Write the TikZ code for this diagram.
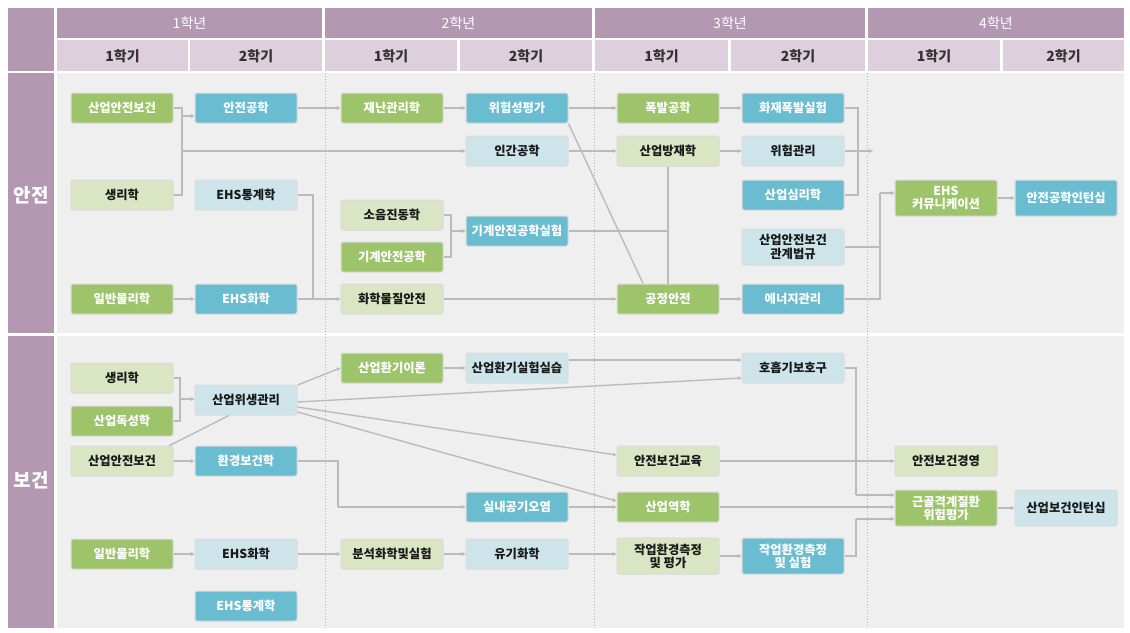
\documentclass[tikz,border=0pt]{standalone}
\usepackage{fontspec}
\setmainfont{Noto Sans CJK KR}
\usetikzlibrary{arrows.meta}

\definecolor{hdpurple}{HTML}{B497B1}
\definecolor{sempurple}{HTML}{DDD0DC}
\definecolor{bodygray}{HTML}{EFEFEF}
\definecolor{subjgreen}{HTML}{9DC46B}
\definecolor{subjlgreen}{HTML}{DAE5C3}
\definecolor{subjteal}{HTML}{6ABCD0}
\definecolor{subjlblue}{HTML}{CDE5EA}
\definecolor{linkgray}{HTML}{BBBBBB}

\begin{document}
\begin{tikzpicture}[x=1pt, y=-1pt,
    subj/.style={rounded corners=2pt, draw=black!14, line width=1pt,
      minimum width=102pt, minimum height=30pt, inner sep=1pt, align=center,
      font=\bfseries\fontsize{12.3}{13.2}\selectfont},
    gbox/.style={subj, fill=subjgreen, text=white},
    lgbox/.style={subj, fill=subjlgreen, text=black!90},
    tbox/.style={subj, fill=subjteal, text=white},
    lbbox/.style={subj, fill=subjlblue, text=black!90},
    twoline/.style={minimum height=36pt},
    yeartxt/.style={text=white, font=\fontsize{14}{16}\selectfont},
    semtxt/.style={text=black!80, font=\bfseries\fontsize{14}{16}\selectfont},
    parttxt/.style={text=white, font=\bfseries\fontsize{19}{21}\selectfont},
    link/.style={draw=linkgray, line width=1.4pt},
    arr/.style={link, -{Stealth[length=4pt, width=4pt]}},
  ]

  \useasboundingbox (0,0) rectangle (1130,632);

  % Column centres of the subject boxes
  \def\cola{122}
  \def\colb{246}
  \def\colc{392}
  \def\cold{517}
  \def\cole{668}
  \def\colf{793}
  \def\colg{946}
  \def\colh{1066}

  % Header
  \fill[hdpurple] (8,8) rectangle (54,71);
  \fill[hdpurple] (57,8) rectangle (322,38);
  \fill[hdpurple] (325,8) rectangle (592,38);
  \fill[hdpurple] (595,8) rectangle (865,38);
  \fill[hdpurple] (868,8) rectangle (1124,38);
  \node[yeartxt] (ya) at (189.5,23) {1학년};
  \node[yeartxt] (yb) at (458.5,23) {2학년};
  \node[yeartxt] (yc) at (730,23) {3학년};
  \node[yeartxt] (yd) at (996,23) {4학년};

  \fill[sempurple] (57,40) rectangle (188,71);
  \fill[sempurple] (190,40) rectangle (322,71);
  \fill[sempurple] (325,40) rectangle (457,71);
  \fill[sempurple] (460,40) rectangle (592,71);
  \fill[sempurple] (595,40) rectangle (728,71);
  \fill[sempurple] (731,40) rectangle (865,71);
  \fill[sempurple] (868,40) rectangle (1000,71);
  \fill[sempurple] (1003,40) rectangle (1124,71);
  \node[semtxt] (sema) at (122.5,56) {1학기};
  \node[semtxt] (semb) at (256,56) {2학기};
  \node[semtxt] (semc) at (391,56) {1학기};
  \node[semtxt] (semd) at (526,56) {2학기};
  \node[semtxt] (seme) at (661.5,56) {1학기};
  \node[semtxt] (semf) at (798,56) {2학기};
  \node[semtxt] (semg) at (934,56) {1학기};
  \node[semtxt] (semh) at (1063.5,56) {2학기};

  % Body
  \fill[bodygray] (57,73) rectangle (1124,333);
  \fill[bodygray] (57,336) rectangle (1124,628);
  \fill[hdpurple] (8,73) rectangle (54,333);
  \fill[hdpurple] (8,336) rectangle (54,628);
  \node[parttxt] (pa) at (31,195) {안전};
  \node[parttxt] (pb) at (31,480) {보건};
  \draw[dotted, line width=1pt, black!30] (325,73) -- (325,628);
  \draw[dotted, line width=1pt, black!30] (594,73) -- (594,628);
  \draw[dotted, line width=1pt, black!30] (867,73) -- (867,628);

  % Safety subjects
  \node[gbox] (sa) at (\cola,108) {산업안전보건};
  \node[lgbox] (sb) at (\cola,195) {생리학};
  \node[gbox] (sc) at (\cola,299) {일반물리학};
  \node[tbox] (ag) at (\colb,108) {안전공학};
  \node[lbbox] (et) at (\colb,195) {EHS통계학};
  \node[tbox] (eh) at (\colb,299) {EHS화학};
  \node[gbox] (jn) at (\colc,108) {재난관리학};
  \node[lgbox] (sj) at (\colc,215) {소음진동학};
  \node[gbox] (gg) at (\colc,257) {기계안전공학};
  \node[lgbox] (hm) at (\colc,299) {화학물질안전};
  \node[tbox] (wp) at (\cold,108) {위험성평가};
  \node[lbbox] (ig) at (\cold,151) {인간공학};
  \node[tbox] (gs) at (\cold,231) {기계안전공학실험};
  \node[gbox] (pbl) at (\cole,108) {폭발공학};
  \node[lgbox] (bj) at (\cole,151) {산업방재학};
  \node[gbox] (gj) at (\cole,299) {공정안전};
  \node[tbox] (hp) at (\colf,108) {화재폭발실험};
  \node[lbbox] (wg) at (\colf,151) {위험관리};
  \node[tbox] (ss) at (\colf,195) {산업심리학};
  \node[lbbox, twoline] (bg) at (\colf,247) {산업안전보건\\관계법규};
  \node[tbox] (eg) at (\colf,299) {에너지관리};
  \node[gbox, twoline] (ec) at (\colg,198) {EHS\\커뮤니케이션};
  \node[tbox, twoline] (ai) at (\colh,198) {안전공학인턴십};

  % Safety links
  \coordinate (busa) at (182,108);
  \coordinate (busb) at (182,195);
  \draw[link] (sa.east) -- (busa) -- (busb) -- (sb.east);
  \coordinate (busc) at (182,116);
  \draw[arr] (busc) -- (busc -| ag.west);
  \coordinate (busd) at (182,151);
  \draw[arr] (busd) -- (busd -| ig.west);
  \draw[arr] (ag) -- (jn);
  \draw[arr] (jn) -- (wp);
  \draw[arr] (wp) -- (pbl);
  \draw[arr] (pbl) -- (hp);
  \draw[link] (wp.south east) -- ([xshift=-25pt]gj.north);
  \draw[arr] (ig) -- (bj);
  \draw[arr] (bj) -- (wg);
  \draw[link] (bj) -- (gj);
  \draw[link] (gs.east) -- (gs.east -| bj.south);
  \coordinate (busk) at (451,215);
  \coordinate (busl) at (451,257);
  \draw[link] (sj.east) -- (busk) -- (busl) -- (gg.east);
  \coordinate (busm) at (451,231);
  \draw[arr] (busm) -- (gs.west);
  \coordinate (bust) at (313,195);
  \coordinate (busu) at (313,299);
  \draw[link] (et.east) -- (bust) -- (busu);
  \draw[arr] (sc) -- (eh);
  \draw[arr] (eh) -- (hm);
  \draw[arr] (hm) -- (gj);
  \draw[arr] (gj) -- (eg);
  \coordinate (busv) at (858,108);
  \coordinate (busw) at (858,195);
  \draw[link] (hp.east) -- (busv) -- (busw) -- (ss.east);
  \coordinate (outa) at (873,151);
  \draw[arr] (wg.east) -- (outa);
  \coordinate (busx) at (880,299);
  \coordinate (busy) at (880,193);
  \draw[link] (eg.east) -- (busx) -- (busy);
  \draw[arr] (busy) -- (busy -| ec.west);
  \draw[link] (bg.east) -- (bg.east -| busx);
  \draw[arr] (ec) -- (ai);

  % Health subjects
  \node[lgbox] (hs) at (\cola,378) {생리학};
  \node[gbox] (hd) at (\cola,421) {산업독성학};
  \node[lgbox] (ha) at (\cola,461) {산업안전보건};
  \node[gbox] (hpy) at (\cola,554) {일반물리학};
  \node[lbbox] (uw) at (\colb,400) {산업위생관리};
  \node[tbox] (gb) at (\colb,461) {환경보건학};
  \node[lbbox] (hc) at (\colb,554) {EHS화학};
  \node[tbox] (hst) at (\colb,606) {EHS통계학};
  \node[gbox] (ht) at (\colc,368) {산업환기이론};
  \node[lgbox] (bs) at (\colc,554) {분석화학및실험};
  \node[lbbox] (hx) at (\cold,368) {산업환기실험실습};
  \node[tbox] (sg) at (\cold,507) {실내공기오염};
  \node[lbbox] (yg) at (\cold,554) {유기화학};
  \node[lgbox] (ae) at (\cole,461) {안전보건교육};
  \node[gbox] (yh) at (\cole,507) {산업역학};
  \node[lgbox, twoline] (jp) at (\cole,556) {작업환경측정\\및 평가};
  \node[lbbox] (hb) at (\colf,368) {호흡기보호구};
  \node[tbox, twoline] (js) at (\colf,556) {작업환경측정\\및 실험};
  \node[lgbox] (am) at (\colg,461) {안전보건경영};
  \node[gbox, twoline] (gk) at (\colg,508) {근골격계질환\\위험평가};
  \node[lbbox, twoline] (bi) at (\colh,508) {산업보건인턴십};

  % Health links
  \coordinate (hbusa) at (180,378);
  \coordinate (hbusb) at (180,421);
  \draw[link] (hs.east) -- (hbusa) -- (hbusb) -- (hd.east);
  \coordinate (hbusc) at (180,399);
  \draw[arr] (hbusc) -- (hbusc -| uw.west);
  \draw[link] ([xshift=-4pt]ha.north east) -- ([xshift=-17pt]uw.south);
  \draw[arr] (ha) -- (gb);
  \draw[arr] ([yshift=15pt]uw.east) -- (ht.west);
  \draw[arr] ([yshift=-2pt]uw.east) -- ([yshift=-10pt]hb.west);
  \draw[arr] ([yshift=-7pt]uw.east) -- ([yshift=6pt]ae.west);
  \draw[arr] ([yshift=-12pt]uw.east) -- ([yshift=6pt]yh.west);
  \draw[arr] (ht) -- (hx);
  \draw[arr] ([yshift=8pt]hx.east) -- ([yshift=8pt]hb.west);
  \coordinate (hbusd) at (338,461);
  \coordinate (hbuse) at (338,507);
  \draw[link] (gb.east) -- (hbusd) -- (hbuse);
  \draw[arr] (hbuse) -- (sg.west);
  \draw[arr] (sg) -- (yh);
  \draw[arr] (hpy) -- (hc);
  \draw[arr] (hc) -- (bs);
  \draw[arr] (bs) -- (yg);
  \draw[arr] (yg.east) -- (yg.east -| jp.west);
  \draw[arr] (jp) -- (js);
  \draw[arr] (ae) -- (am);
  \coordinate (hbusf) at (856,368);
  \coordinate (hbusg) at (856,495);
  \draw[link] (hb.east) -- (hbusf) -- (hbusg);
  \draw[arr] (hbusg) -- (hbusg -| gk.west);
  \draw[arr] (yh.east) -- (yh.east -| gk.west);
  \coordinate (hbush) at (856,556);
  \coordinate (hbusi) at (856,519);
  \draw[link] (js.east) -- (hbush) -- (hbusi);
  \draw[arr] (hbusi) -- (hbusi -| gk.west);
  \draw[arr] (gk) -- (bi);

\end{tikzpicture}
\end{document}
